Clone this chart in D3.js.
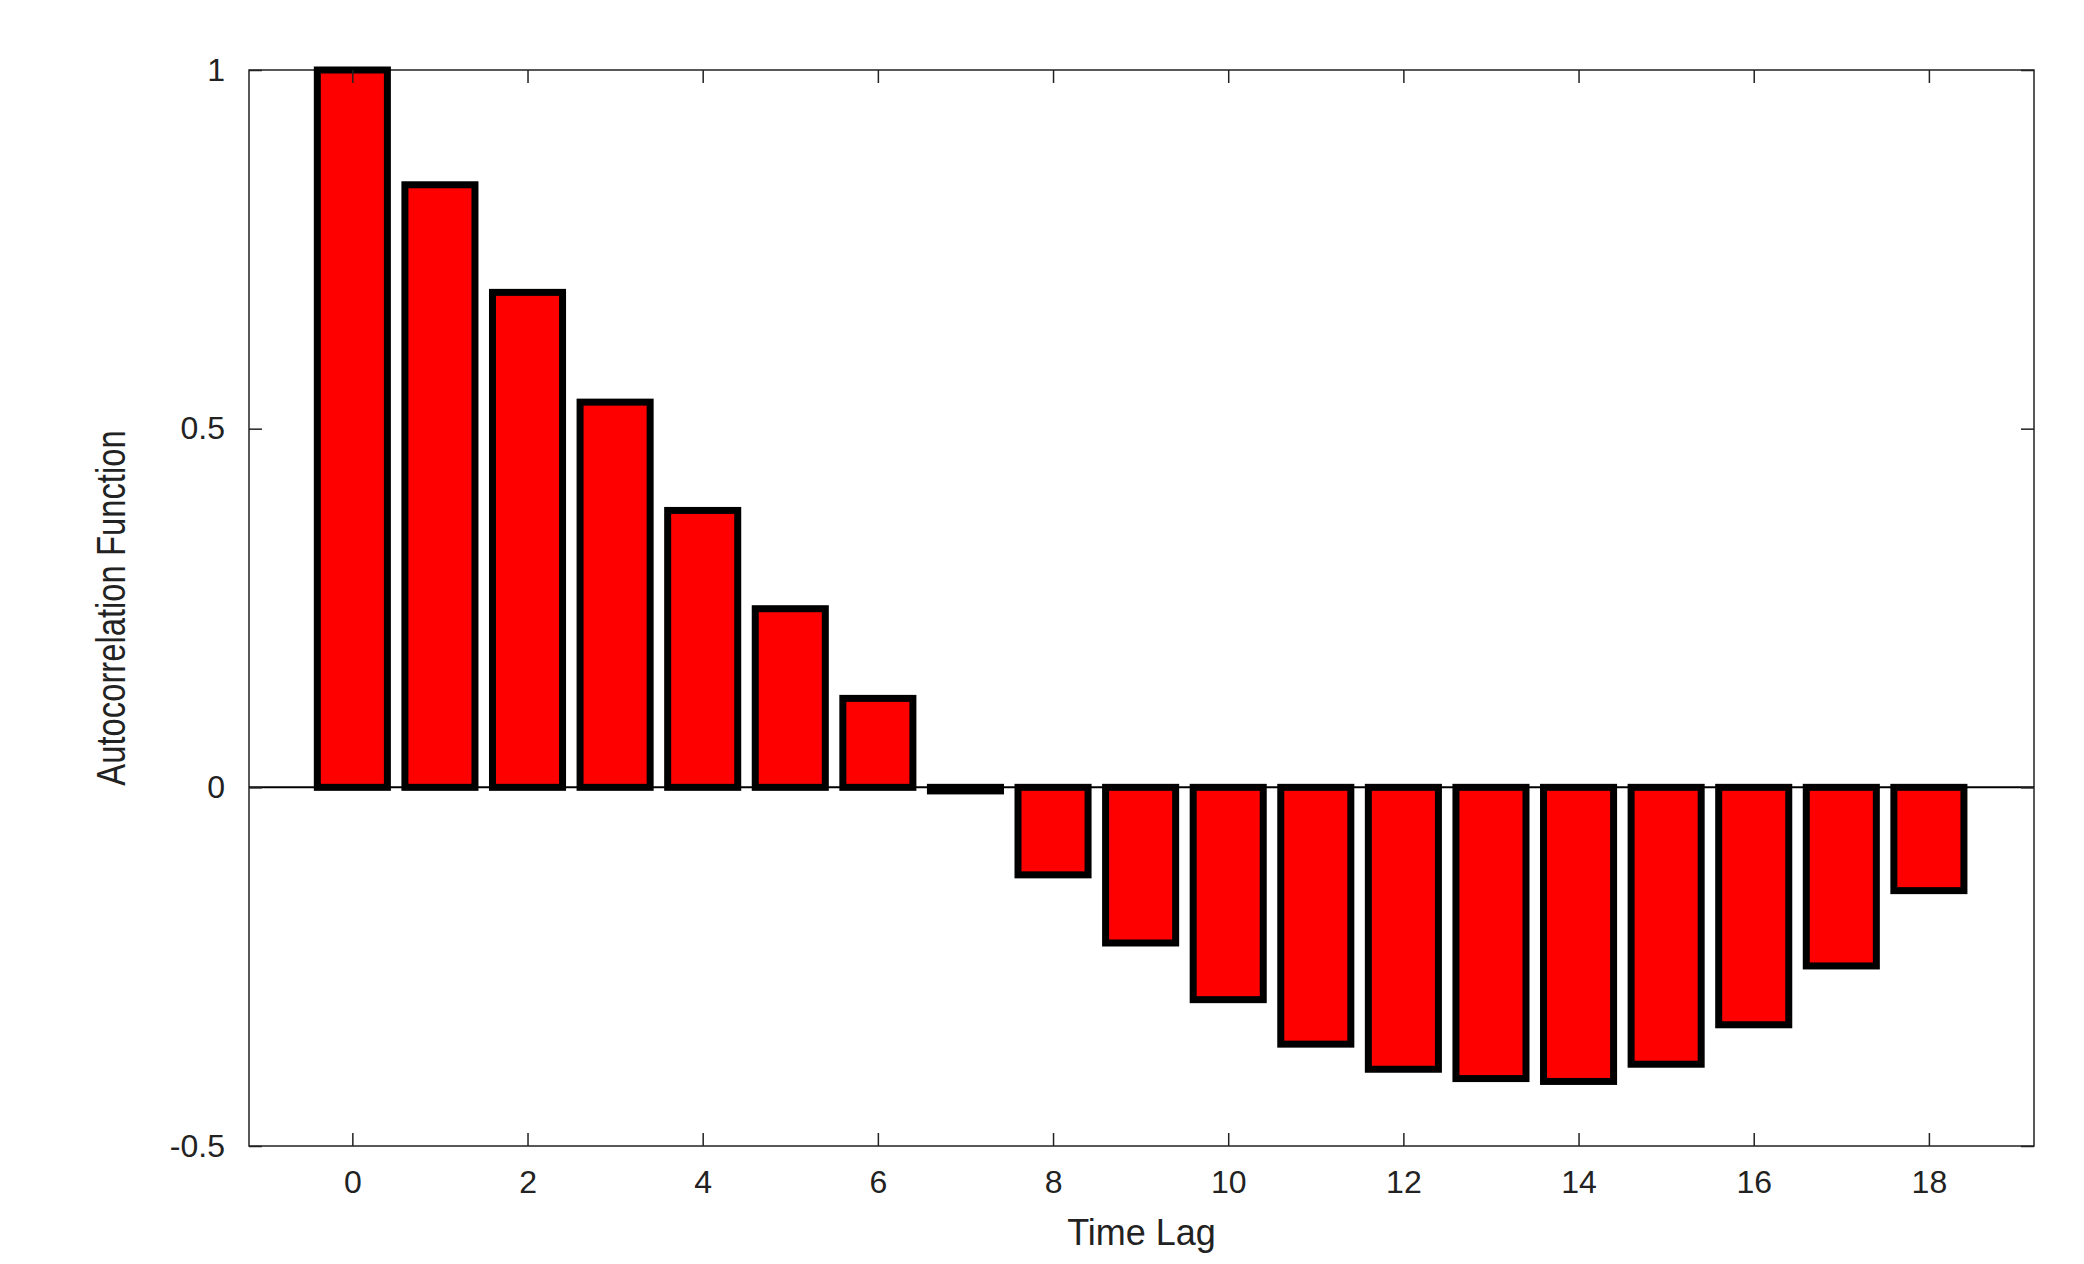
<!DOCTYPE html><html><head><script src="https://d3js.org/d3.v7.min.js"></script>
<style>body{margin:0;background:#fff}text{font-family:"Liberation Sans",Arial,sans-serif}</style></head><body><svg id="c" width="2084" height="1264"></svg><script>
const lags=d3.range(0,19);
const acf=[1,0.84,0.69,0.537,0.386,0.249,0.124,-0.005,-0.122,-0.217,-0.296,-0.358,-0.393,-0.406,-0.41,-0.386,-0.331,-0.249,-0.144];
const xTicks=[0,2,4,6,8,10,12,14,16,18];
const yTicks=[-0.5,0,0.5,1];
const yTickLabels=["-0.5","0","0.5","1"];
const svg=d3.select("#c");
const L=249,R=2034,T=70,B=1146;
const x=d3.scaleLinear().domain([-1.18,19.2]).range([L,R]);
const y=d3.scaleLinear().domain([-0.5,1]).range([B,T]);
const bw=(x(1)-x(0))*0.8;
svg.append("rect").attr("x",L).attr("y",T).attr("width",R-L).attr("height",B-T).attr("fill","none").attr("stroke","#222").attr("stroke-width",1.5);
svg.selectAll(".bar").data(lags).join("rect").attr("x",d=>x(d)-bw/2).attr("width",bw)
 .attr("y",d=>y(Math.max(0,acf[d]))).attr("height",d=>Math.abs(y(acf[d])-y(0)))
 .attr("fill","#ff0000").attr("stroke","#000").attr("stroke-width",7);
svg.append("line").attr("x1",L).attr("x2",R).attr("y1",y(0)).attr("y2",y(0)).attr("stroke","#000").attr("stroke-width",2);
const gx=svg.append("g").attr("transform",`translate(0,${B})`).call(d3.axisBottom(x).tickValues(xTicks).tickSize(-13).tickPadding(24));
const gxt=svg.append("g").attr("transform",`translate(0,${T})`).call(d3.axisTop(x).tickValues(xTicks).tickSize(-13).tickFormat(""));
const gy=svg.append("g").attr("transform",`translate(${L},0)`).call(d3.axisLeft(y).tickValues(yTicks).tickFormat((d,i)=>yTickLabels[i]).tickSize(-13).tickPadding(24));
const gyr=svg.append("g").attr("transform",`translate(${R},0)`).call(d3.axisRight(y).tickValues(yTicks).tickSize(-13).tickFormat(""));
[gx,gxt,gy,gyr].forEach(g=>{g.select(".domain").remove();g.selectAll("line").attr("stroke","#222").attr("stroke-width",1.5);g.selectAll("text").attr("font-size",32).attr("fill","#222").style("font-family","Liberation Sans, Arial, sans-serif");});
svg.append("text").attr("x",(L+R)/2).attr("y",1245).attr("text-anchor","middle").attr("font-size",36).attr("fill","#222").text("Time Lag");
svg.append("text").attr("transform",`translate(125,${(T+B)/2}) rotate(-90) scale(0.82,1)`).attr("text-anchor","middle").attr("font-size",40).attr("fill","#222").text("Autocorrelation Function");
</script></body></html>
